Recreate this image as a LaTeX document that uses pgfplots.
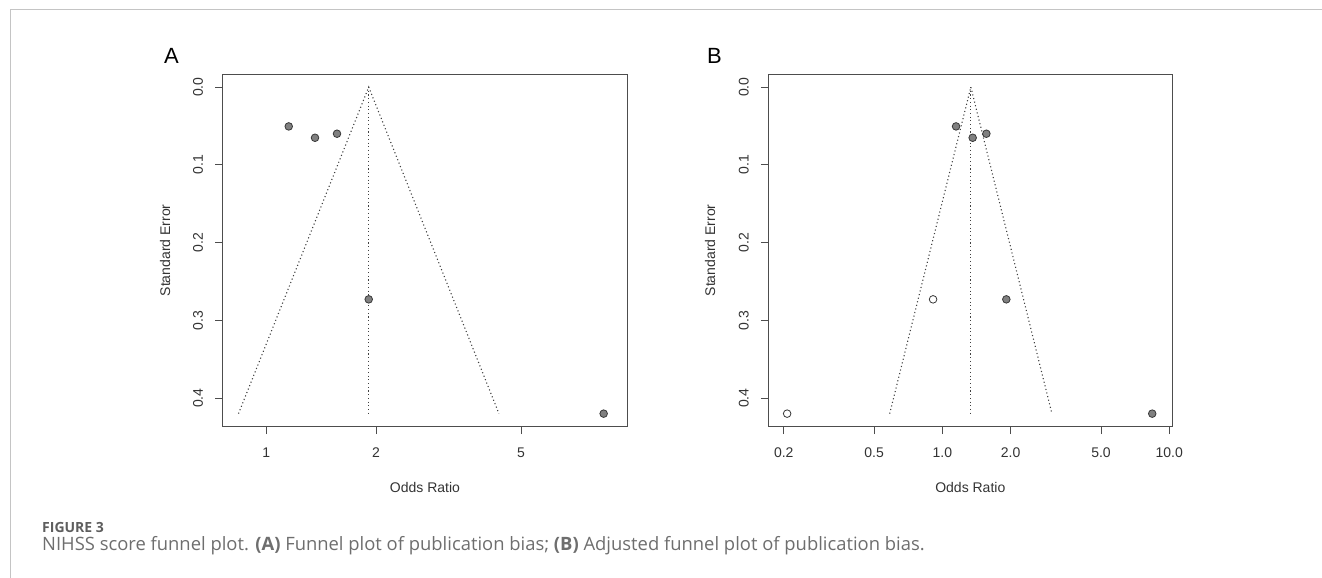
\documentclass[border=0pt]{standalone}
\usepackage{fontspec}
\setmainfont{Liberation Sans}
\newfontfamily\capfont{Open Sans}
\usepackage{pgfplots}
\pgfplotsset{compat=1.18}

\definecolor{axisgray}{HTML}{4D4D4D}
\definecolor{txtgray}{HTML}{333333}
\definecolor{ptfill}{HTML}{808080}
\definecolor{ptedge}{HTML}{383838}
\definecolor{fungray}{HTML}{404040}
\definecolor{framegray}{HTML}{C4C4C4}
\definecolor{capgray}{HTML}{6E6E6E}

\pgfplotsset{
  funnel/.style={
    scale only axis,
    y dir=reverse,
    ymin=-0.0168, ymax=0.4368,
    ytick={0,0.1,0.2,0.3,0.4},
    yticklabels={0.0,0.1,0.2,0.3,0.4},
    axis line style={axisgray, line width=0.9pt},
    tick style={axisgray, line width=0.9pt},
    tick align=outside,
    major tick length=7.5pt,
    minor tick num=0,
    xtick pos=bottom, ytick pos=left,
    every tick label/.append style={font=\fontsize{14}{16}\selectfont, text=txtgray},
    xticklabel style={anchor=north, inner xsep=0pt, inner ysep=0pt, yshift=-13pt},
    yticklabel style={rotate=90, anchor=south, inner xsep=0pt, inner ysep=12pt},
  },
  filledpt/.style={only marks, mark=*, mark size=3.8pt,
    mark options={fill=ptfill, draw=ptedge, line width=0.8pt}},
  openpt/.style={only marks, mark=*, mark size=3.8pt,
    mark options={fill=white, draw=ptedge, line width=0.8pt}},
  funline/.style={draw=fungray, line width=1.1pt, dash pattern=on 1.1pt off 2.6pt},
}

\begin{document}
\begin{tikzpicture}[x=1pt,y=1pt]
\path[use as bounding box] (0,0) rectangle (1322,-578);
\draw[framegray, line width=1pt] (1322,-10) -- (10,-10) -- (10,-578);

% Panel A
\begin{semilogxaxis}[funnel,
  at={(222.7pt,-426.7pt)}, anchor=south west,
  width=404.3pt, height=352.7pt,
  xmin=0.759, xmax=9.77,
  xtick={1,2,5}, xticklabels={1,2,5},
]
\addplot[funline] coordinates {(0.8386,0.42) (1.910,0) (4.35,0.42)};
\addplot[funline] coordinates {(1.910,0) (1.910,0.42)};
\addplot[filledpt] coordinates {
(1.152,0.0506)
(1.360,0.0652)
(1.563,0.0600)
(1.910,0.2730)
(8.430,0.4200)
};
\end{semilogxaxis}

% Panel B
\begin{semilogxaxis}[funnel,
  at={(768.3pt,-426.7pt)}, anchor=south west,
  width=404pt, height=352.7pt,
  xmin=0.171, xmax=10.31,
  xtick={0.2,0.5,1,2,5,10}, xticklabels={0.2,0.5,1.0,2.0,5.0,10.0},
]
\addplot[funline] coordinates {(0.586,0.42) (1.335,0) (3.04,0.42)};
\addplot[funline] coordinates {(1.335,0) (1.335,0.42)};
\addplot[filledpt] coordinates {
(1.149,0.0506)
(1.360,0.0652)
(1.563,0.0600)
(1.914,0.2730)
(8.410,0.4200)
};
\addplot[openpt] coordinates {
(0.910,0.2730)
(0.207,0.4200)
};
\end{semilogxaxis}

% panel letters and axis titles
\node[font=\fontsize{22}{24}\selectfont, anchor=center] at (171.5,-56) {A};
\node[font=\fontsize{22}{24}\selectfont, anchor=center] at (714.5,-56) {B};
\node[font=\fontsize{14}{16}\selectfont, text=txtgray] at (425,-487) {Odds Ratio};
\node[font=\fontsize{14}{16}\selectfont, text=txtgray] at (970.3,-487) {Odds Ratio};
\node[font=\fontsize{14}{16}\selectfont, text=txtgray, rotate=90] at (165,-250.4) {Standard Error};
\node[font=\fontsize{14}{16}\selectfont, text=txtgray, rotate=90] at (710,-250.4) {Standard Error};

% caption
\node[anchor=base west, inner sep=0pt, font=\capfont\bfseries\fontsize{14}{16}\selectfont, text=capgray!85!black] at (42,-532.5) {FIGURE 3};
\node[anchor=base west, inner sep=0pt, font=\capfont\fontsize{18.4}{20}\selectfont, text=capgray] at (42,-550)
  {NIHSS score funnel plot. \textbf{(A)} Funnel plot of publication bias; \textbf{(B)} Adjusted funnel plot of publication bias.};
\end{tikzpicture}
\end{document}
